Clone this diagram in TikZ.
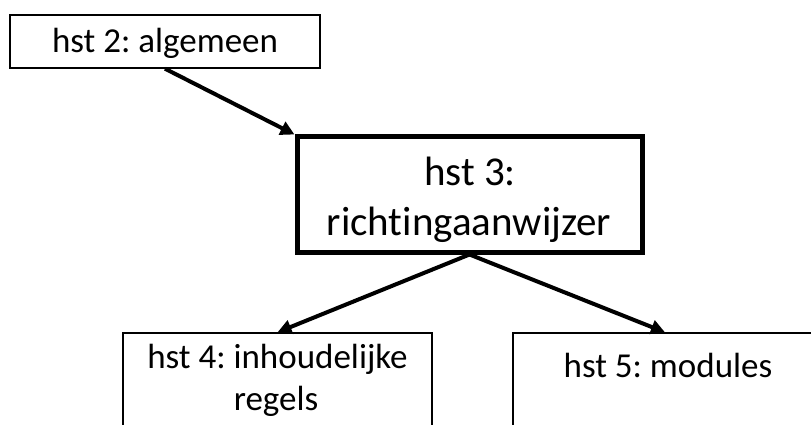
\documentclass[tikz,border=0pt]{standalone}
\usepackage{fontspec}
\setmainfont{Carlito}[Ligatures=NoCommon]
\usetikzlibrary{arrows.meta}
\frenchspacing
\tikzset{
  thinbox/.style={draw=black, line width=1.4pt, rectangle, inner sep=0pt},
  thickbox/.style={draw=black, line width=5pt, rectangle, inner sep=0pt},
  lbl/.style={inner sep=0pt, anchor=base, font=\fontsize{35}{42.7}\selectfont},
  biglbl/.style={inner sep=0pt, anchor=base, font=\fontsize{41}{50}\selectfont},
  conn/.style={line width=4pt, -{Triangle[length=14pt,width=14pt]}}
}
\begin{document}
\begin{tikzpicture}[x=1pt,y=-1pt]
\useasboundingbox (0,0) rectangle (811,425);
\clip (0,0) rectangle (811,425);
% boxes
\node[thinbox, minimum width=310pt, minimum height=53pt] (b2) at (165,41.5) {};
\node[thickbox, minimum width=345pt, minimum height=115pt] (b3) at (469.5,194.5) {};
\node[thinbox, minimum width=309pt, minimum height=140pt] (b4) at (277.5,403) {};
\node[thinbox, minimum width=304pt, minimum height=140pt] (b5) at (665,403) {};
% texts
\node[lbl] (t2) at (165,53) {hst 2: algemeen};
\node[biglbl] (t3a) at (470,185) {hst 3:};
\node[biglbl] (t3b) at (469,235) {richtingaanwijzer};
\node[lbl] (t4a) at (277.5,368) {hst 4: inhoudelijke};
\node[lbl] (t4b) at (276,410) {regels};
\node[lbl] (t5) at (668,377) {hst 5: modules};
% connectors
\draw[conn] (b2.south) -- (b3.north west);
\draw[conn] (b3.south) -- (b4.north);
\draw[conn] (b3.south) -- (b5.north);
\end{tikzpicture}
\end{document}
